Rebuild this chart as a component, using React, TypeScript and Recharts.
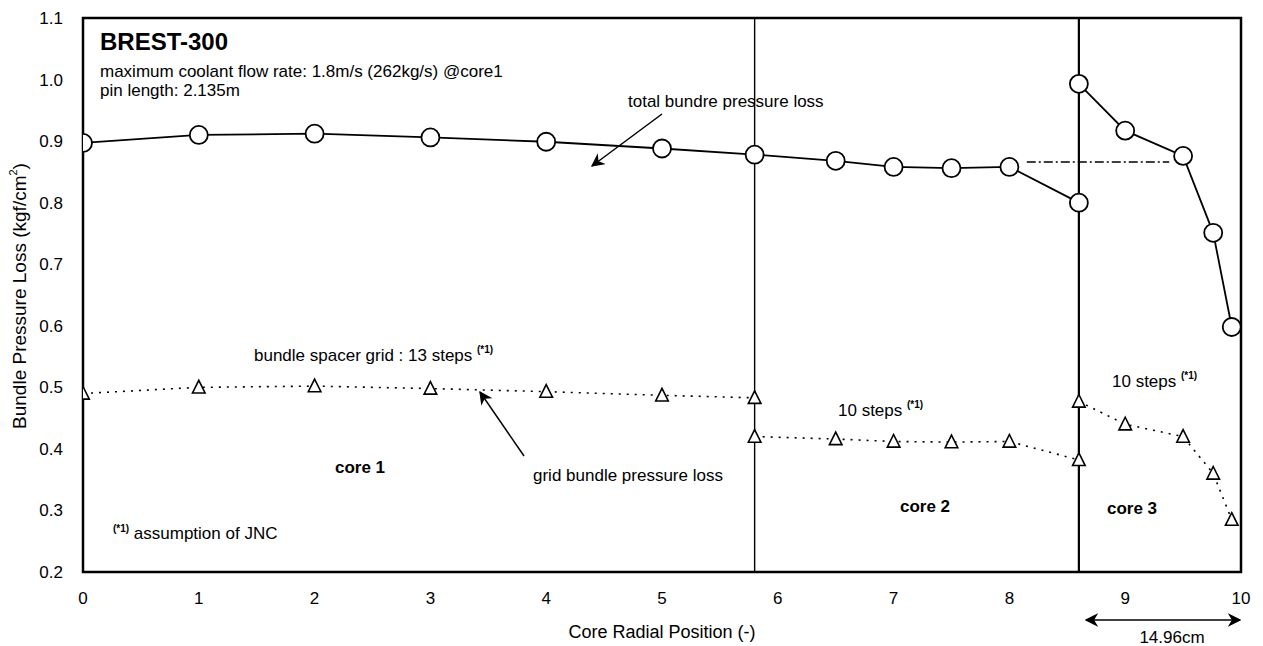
import {
  ComposedChart,
  Line,
  XAxis,
  YAxis,
  ReferenceLine,
  ReferenceArea,
} from "recharts";

// total bundle pressure loss (circles), split where the core changes
const totalCore12 = [
  { x: 0, y: 0.897 },
  { x: 1, y: 0.91 },
  { x: 2, y: 0.912 },
  { x: 3, y: 0.906 },
  { x: 4, y: 0.899 },
  { x: 5, y: 0.888 },
  { x: 5.8, y: 0.878 },
  { x: 6.5, y: 0.868 },
  { x: 7, y: 0.858 },
  { x: 7.5, y: 0.856 },
  { x: 8, y: 0.858 },
  { x: 8.6, y: 0.8 },
];
const totalCore3 = [
  { x: 8.6, y: 0.993 },
  { x: 9, y: 0.917 },
  { x: 9.5, y: 0.876 },
  { x: 9.76, y: 0.751 },
  { x: 9.92, y: 0.598 },
];

// grid bundle pressure loss (triangles), one run per core
const gridCore1 = [
  { x: 0, y: 0.49 },
  { x: 1, y: 0.5 },
  { x: 2, y: 0.502 },
  { x: 3, y: 0.498 },
  { x: 4, y: 0.493 },
  { x: 5, y: 0.487 },
  { x: 5.8, y: 0.483 },
];
const gridCore2 = [
  { x: 5.8, y: 0.42 },
  { x: 6.5, y: 0.416 },
  { x: 7, y: 0.412 },
  { x: 7.5, y: 0.411 },
  { x: 8, y: 0.412 },
  { x: 8.6, y: 0.382 },
];
const gridCore3 = [
  { x: 8.6, y: 0.477 },
  { x: 9, y: 0.44 },
  { x: 9.5, y: 0.42 },
  { x: 9.76, y: 0.36 },
  { x: 9.92, y: 0.285 },
];

const xTicks = [0, 1, 2, 3, 4, 5, 6, 7, 8, 9, 10];
const yTicks = [0.2, 0.3, 0.4, 0.5, 0.6, 0.7, 0.8, 0.9, 1.0, 1.1];
const coreBoundaries = [5.8, 8.6];
const averageLevel = { from: 8.15, to: 9.38, y: 0.866 };

const FONT = "'Liberation Sans', Arial, Helvetica, sans-serif";

const OpenCircle = (props: any) => {
  const { cx, cy, index } = props;
  if (cx == null || cy == null) return <g key={index} />;
  return (
    <circle
      key={index}
      cx={cx}
      cy={cy}
      r={9}
      fill="#fff"
      stroke="#000"
      strokeWidth={1.8}
    />
  );
};

const OpenTriangle = (props: any) => {
  const { cx, cy, index } = props;
  if (cx == null || cy == null) return <g key={index} />;
  const s = 7;
  const d = `M${cx},${cy - s} L${cx + s * 0.9},${cy + s * 0.8} L${cx - s * 0.9},${cy + s * 0.8} Z`;
  return <path key={index} d={d} fill="#fff" stroke="#000" strokeWidth={1.6} />;
};

const Sup = ({ children }: { children: string }) => (
  <tspan dy={-8} fontSize={10} fontWeight="bold">
    {children}
  </tspan>
);

export default function App() {
  return (
    <div style={{ position: "relative", width: 1255, height: 638 }}>
      <ComposedChart
        width={1255}
        height={638}
        margin={{ top: 10, right: 22, bottom: 0, left: 0 }}
      >
        <XAxis
          type="number"
          dataKey="x"
          domain={[0, 10]}
          ticks={xTicks}
          allowDataOverflow
          axisLine={false}
          tickLine={false}
          tickSize={0}
          tickMargin={20}
          height={74}
          tick={{ fill: "#000", fontSize: 17, fontFamily: FONT }}
        />
        <YAxis
          type="number"
          dataKey="y"
          domain={[0.2, 1.1]}
          ticks={yTicks}
          allowDataOverflow
          axisLine={false}
          tickLine={false}
          tickSize={0}
          tickMargin={20}
          width={75}
          tickFormatter={(v: number) => v.toFixed(1)}
          tick={{ fill: "#000", fontSize: 17, fontFamily: FONT }}
        />
        <ReferenceArea
          x1={0}
          x2={10}
          y1={0.2}
          y2={1.1}
          fill="none"
          stroke="#000"
          strokeWidth={2.5}
          ifOverflow="visible"
        />
        {coreBoundaries.map((b, i) => (
          <ReferenceLine
            key={b}
            x={b}
            stroke="#000"
            strokeWidth={i === 0 ? 1.4 : 2.2}
          />
        ))}
        <ReferenceLine
          segment={[
            { x: averageLevel.from, y: averageLevel.y },
            { x: averageLevel.to, y: averageLevel.y },
          ]}
          stroke="#000"
          strokeWidth={1.4}
          strokeDasharray="9 3 2 3"
        />
        <Line
          data={gridCore1}
          dataKey="y"
          stroke="#000"
          strokeWidth={1.6}
          strokeDasharray="2 6"
          dot={<OpenTriangle />}
          isAnimationActive={false}
        />
        <Line
          data={gridCore2}
          dataKey="y"
          stroke="#000"
          strokeWidth={1.6}
          strokeDasharray="2 6"
          dot={<OpenTriangle />}
          isAnimationActive={false}
        />
        <Line
          data={gridCore3}
          dataKey="y"
          stroke="#000"
          strokeWidth={1.6}
          strokeDasharray="2 6"
          dot={<OpenTriangle />}
          isAnimationActive={false}
        />
        <Line
          data={totalCore12}
          dataKey="y"
          stroke="#000"
          strokeWidth={1.8}
          dot={<OpenCircle />}
          isAnimationActive={false}
        />
        <Line
          data={totalCore3}
          dataKey="y"
          stroke="#000"
          strokeWidth={1.8}
          dot={<OpenCircle />}
          isAnimationActive={false}
        />
      </ComposedChart>

      {/* titles, notes and annotation arrows */}
      <svg
        width={1255}
        height={638}
        style={{ position: "absolute", left: 0, top: 0, pointerEvents: "none" }}
        fontFamily={FONT}
      >
        <defs>
          <marker
            id="head"
            viewBox="0 0 10 10"
            refX="9"
            refY="5"
            markerWidth="9"
            markerHeight="9"
            orient="auto-start-reverse"
          >
            <path d="M0,0 L10,5 L0,10 L3,5 Z" fill="#000" />
          </marker>
        </defs>

        <text
          x={13}
          y={288}
          fontSize={19}
          textAnchor="middle"
          transform="rotate(-90 13 288)"
          dominantBaseline="middle"
        >
          Bundle Pressure Loss (kgf/cm<tspan dy={-7} fontSize={11}>2</tspan>
          <tspan dy={7}>)</tspan>
        </text>
        <text x={654} y={630} fontSize={18} textAnchor="middle">
          Core Radial Position (-)
        </text>

        <text x={92} y={42} fontSize={24} fontWeight="bold">
          BREST-300
        </text>
        <text x={92} y={69} fontSize={17}>
          maximum coolant flow rate: 1.8m/s (262kg/s) @core1
        </text>
        <text x={92} y={88} fontSize={17}>
          pin length: 2.135m
        </text>

        <text x={620} y={99} fontSize={17}>
          total bundre pressure loss
        </text>
        <line
          x1={654}
          y1={106}
          x2={584}
          y2={158}
          stroke="#000"
          strokeWidth={1.5}
          markerEnd="url(#head)"
        />

        <text x={246} y={353} fontSize={17}>
          bundle spacer grid : 13 steps <Sup>(*1)</Sup>
        </text>
        <line
          x1={516}
          y1={448}
          x2={472}
          y2={384}
          stroke="#000"
          strokeWidth={1.5}
          markerEnd="url(#head)"
        />
        <text x={525} y={473} fontSize={17}>
          grid bundle pressure loss
        </text>

        <text x={830} y={408} fontSize={17}>
          10 steps <Sup>(*1)</Sup>
        </text>
        <text x={1104} y={379} fontSize={17}>
          10 steps <Sup>(*1)</Sup>
        </text>

        <text x={352} y={465} fontSize={17} fontWeight="bold" textAnchor="middle">
          core 1
        </text>
        <text x={917} y={504} fontSize={17} fontWeight="bold" textAnchor="middle">
          core 2
        </text>
        <text x={1124} y={506} fontSize={17} fontWeight="bold" textAnchor="middle">
          core 3
        </text>

        <text x={105} y={531} fontSize={17}>
          <tspan fontSize={10} fontWeight="bold" dy={-7}>
            (*1)
          </tspan>
          <tspan dy={7}> assumption of JNC</tspan>
        </text>

        <line
          x1={1078}
          y1={612}
          x2={1232}
          y2={612}
          stroke="#000"
          strokeWidth={1.5}
          markerStart="url(#head)"
          markerEnd="url(#head)"
        />
        <text x={1164} y={635} fontSize={17} textAnchor="middle">
          14.96cm
        </text>
      </svg>
    </div>
  );
}
